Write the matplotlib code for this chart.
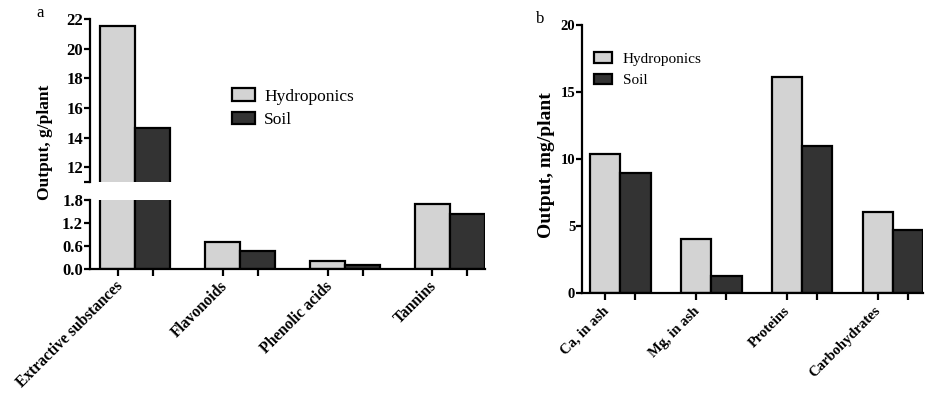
import numpy as np
import matplotlib.pyplot as plt

plt.rcParams['font.family'] = ['Liberation Serif', 'DejaVu Serif']

# panel a data, g/plant
groups_a = ['Extractive substances', 'Flavonoids', 'Phenolic acids', 'Tannins']
hydro_a = [21.5, 0.70, 0.21, 1.70]
soil_a = [14.65, 0.48, 0.10, 1.44]

# panel b data, mg/plant
groups_b = ['Ca, in ash', 'Mg, in ash', 'Proteins', 'Carbohydrates']
hydro_b = [10.4, 4.05, 16.1, 6.05]
soil_b = [9.0, 1.3, 11.0, 4.75]

light = '#d3d3d3'
dark = '#333333'
lw = 1.6

fig = plt.figure(figsize=(9.27, 3.94), dpi=100)


def style(ax, size):
    for s in ['top', 'right']:
        ax.spines[s].set_visible(False)
    for s in ['left', 'bottom']:
        ax.spines[s].set_linewidth(lw)
    ax.tick_params(width=lw, length=4, labelsize=size, pad=1)
    for lab in ax.get_yticklabels():
        lab.set_fontweight('bold')


def draw_bars(ax, hydro, soil):
    x = np.arange(len(hydro)) * 3
    ax.bar(x, hydro, width=1, color=light, edgecolor='black', linewidth=lw,
           label='Hydroponics')
    ax.bar(x + 1, soil, width=1, color=dark, edgecolor='black', linewidth=lw,
           label='Soil')
    return x


def group_labels(ax, x, names, size, dy=-8):
    for xi, name in zip(x, names):
        ax.annotate(name, xy=(xi, 0), xycoords=('data', 'axes fraction'),
                    xytext=(-2.5, dy), textcoords='offset points',
                    rotation=45, ha='right', va='top', rotation_mode='anchor',
                    fontsize=size, fontweight='bold')


# ---- panel a: broken axis ----
ax_top = fig.add_axes([0.0971, 0.538, 0.426, 0.414])
ax_bot = fig.add_axes([0.0971, 0.317, 0.426, 0.175])

for ax in (ax_top, ax_bot):
    x_a = draw_bars(ax, hydro_a, soil_a)
    ax.set_xlim(-0.8, 10.5)

ax_top.set_ylim(11, 22)
ax_top.set_yticks([11, 12, 14, 16, 18, 20, 22])
ax_top.set_yticklabels(['', '12', '14', '16', '18', '20', '22'])
ax_top.spines['bottom'].set_visible(False)
style(ax_top, 12)
ax_top.tick_params(axis='x', bottom=False, labelbottom=False)

ax_bot.set_ylim(0, 1.8)
ax_bot.set_yticks([0, 0.6, 1.2, 1.8])
ax_bot.set_yticklabels(['0.0', '0.6', '1.2', '1.8'])
ax_bot.set_xticks(np.sort(np.concatenate([x_a, x_a + 1])))
ax_bot.set_xticklabels([])
style(ax_bot, 12)
ax_bot.tick_params(axis='x', length=5)
group_labels(ax_bot, x_a, groups_a, 11.2, dy=-6.5)

ax_top.legend(loc='upper left', bbox_to_anchor=(0.32, 0.67), frameon=False,
              fontsize=12.5, handlelength=1.3, handleheight=0.7,
              labelspacing=0.45, handletextpad=0.55)

fig.text(0.049, 0.64, 'Output, g/plant', rotation=90, ha='center',
         va='center', fontsize=12.5, fontweight='bold')
fig.text(0.043, 0.968, 'a', fontsize=12, ha='center', va='center')

# ---- panel b ----
ax_b = fig.add_axes([0.628, 0.256, 0.368, 0.68])
x_b = draw_bars(ax_b, hydro_b, soil_b)
ax_b.set_xlim(-0.76, 10.5)
ax_b.set_ylim(0, 20)
ax_b.set_yticks([0, 5, 10, 15, 20])
ax_b.set_xticks(np.sort(np.concatenate([x_b, x_b + 1])))
ax_b.set_xticklabels([])
style(ax_b, 10.5)
ax_b.tick_params(axis='x', length=5)
group_labels(ax_b, x_b, groups_b, 10.5)

ax_b.legend(loc='upper left', bbox_to_anchor=(-0.006, 0.95), frameon=False,
            fontsize=11, handlelength=1.2, handleheight=0.7,
            labelspacing=0.5, handletextpad=0.7)

fig.text(0.590, 0.581, 'Output, mg/plant', rotation=90, ha='center',
         va='center', fontsize=14, fontweight='bold')
fig.text(0.583, 0.953, 'b', fontsize=12, ha='center', va='center')

fig.savefig('out.png', dpi=100)
